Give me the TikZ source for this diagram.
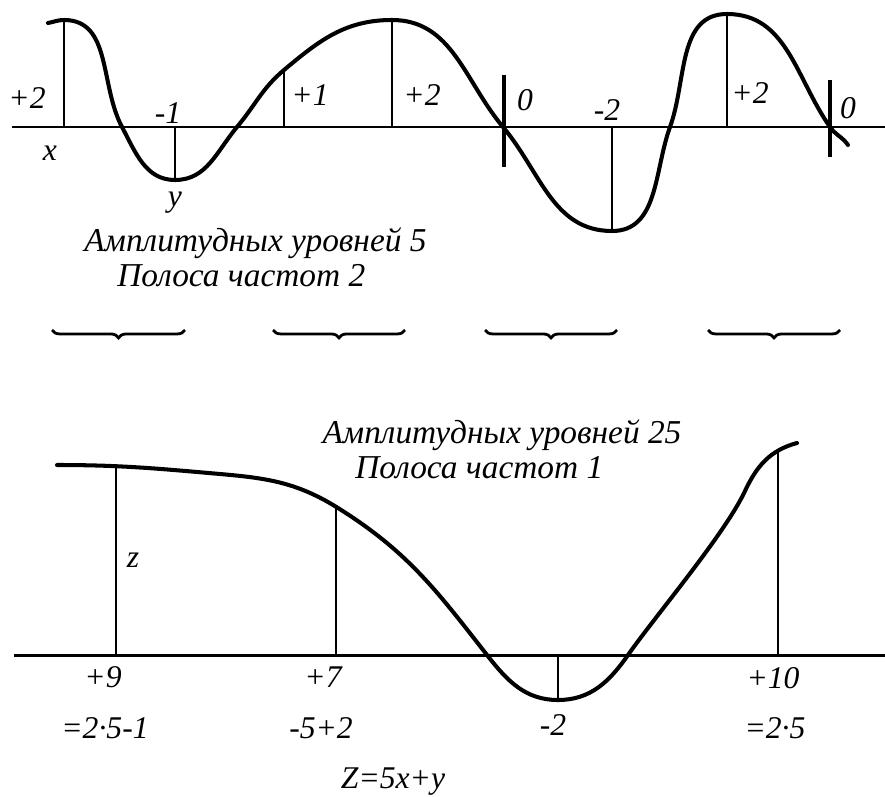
\documentclass[tikz,border=0pt]{standalone}
\usepackage{fontspec}
\setmainfont{Liberation Serif}
\usetikzlibrary{decorations.pathreplacing}
\tikzset{
  wave/.style={line width=2.3pt, line cap=round},
  axisline/.style={line width=1.7pt},
  level/.style={line width=1.1pt},
  zerotick/.style={line width=2pt},
  lbl/.style={font=\fontsize{18}{20}\selectfont\itshape, inner sep=0pt},
  capt/.style={font=\fontsize{19}{22}\selectfont\itshape, inner sep=0pt},
  brc/.style={decorate, decoration={brace, mirror, amplitude=4.5pt}, line width=1.6pt}
}

\begin{document}
\begin{tikzpicture}[x=0.02cm, y=0.02cm]
\useasboundingbox (0,0) rectangle (885,796);
% upper signal: 5 levels, band 2
\draw[axisline] (12,669) -- (885,669);
\draw[wave] (48,773) to[out=10,in=180] (64,776) to[out=0,in=118] (122,669) to[out=-62,in=180] (175,616)
  to[out=0,in=-130] (237,669) to[out=50,in=-140] (284,726) to[out=40,in=180] (392,776)
  to[out=0,in=130] (503,669) to[out=-50,in=180] (612,565) to[out=0,in=-110] (670,669)
  to[out=70,in=180] (727,782) to[out=0,in=125] (830,669) to[out=-55,in=125] (848,651);
\draw[level] (64,669) -- (64,776);
\draw[level] (175,669) -- (175,616);
\draw[level] (284,669) -- (284,726);
\draw[level] (392,669) -- (392,776);
\draw[level] (612,669) -- (612,565);
\draw[level] (727,669) -- (727,782);
\draw[zerotick] (504,721) -- (504,629);
\draw[zerotick] (830,716) -- (830,639);
\node[lbl] (up2a) at (27,698) {+2};
\node[lbl] (xlab) at (50,643) {x};
\node[lbl] (um1) at (168,683) {-1};
\node[lbl] (ylab) at (175,593) {y};
\node[lbl] (up1) at (310,701) {+1};
\node[lbl] (up2b) at (422,701) {+2};
\node[lbl] (uz1) at (525,696) {0};
\node[lbl] (um2) at (607,686) {-2};
\node[lbl] (up2c) at (750,703) {+2};
\node[lbl] (uz2) at (848,688) {0};
\node[capt, anchor=west] (lev5) at (84,553) {Амплитудных уровней 5};
\node[capt, anchor=west] (band2) at (117,520) {Полоса частот 2};
% pairs of samples
\draw[brc] (52,466) -- (185,466);
\draw[brc] (273,466) -- (405,466);
\draw[brc] (485,466) -- (617,466);
\draw[brc] (708,466) -- (840,466);
% lower signal: 25 levels, band 1
\node[capt] (lev25) at (502,361) {Амплитудных уровней 25};
\node[capt, anchor=west] (band1) at (355,328) {Полоса частот 1};
\draw[axisline] (14,141) -- (885,141);
\draw[wave] (57,331) to[out=0,in=175] (220,322) to[out=-5,in=148] (338,288)
  to[out=-32,in=128] (487,141) to[out=-52,in=180] (558,96) to[out=0,in=-125] (628,141)
  to[out=55,in=-115,looseness=0.6] (745,305) to[out=65,in=195] (797,353);
\draw[level] (116,141) -- (116,331);
\draw[level] (336,141) -- (336,289);
\draw[level] (558,141) -- (558,96);
\draw[level] (778,141) -- (778,346);
\node[lbl] (zlab) at (133,236) {z};
\node[lbl] (lp9) at (103,119) {+9};
\node[lbl] (lp7) at (323,119) {+7};
\node[lbl] (lp10) at (773,118) {+10};
\node[lbl] (ex9) at (105,68) {=2·5-1};
\node[lbl] (ex7) at (321,68) {-5+2};
\node[lbl] (lm2) at (553,71) {-2};
\node[lbl] (ex10) at (775,68) {=2·5};
\node[lbl] (zform) at (393,14) {Z=5x+y};
\end{tikzpicture}
\end{document}
